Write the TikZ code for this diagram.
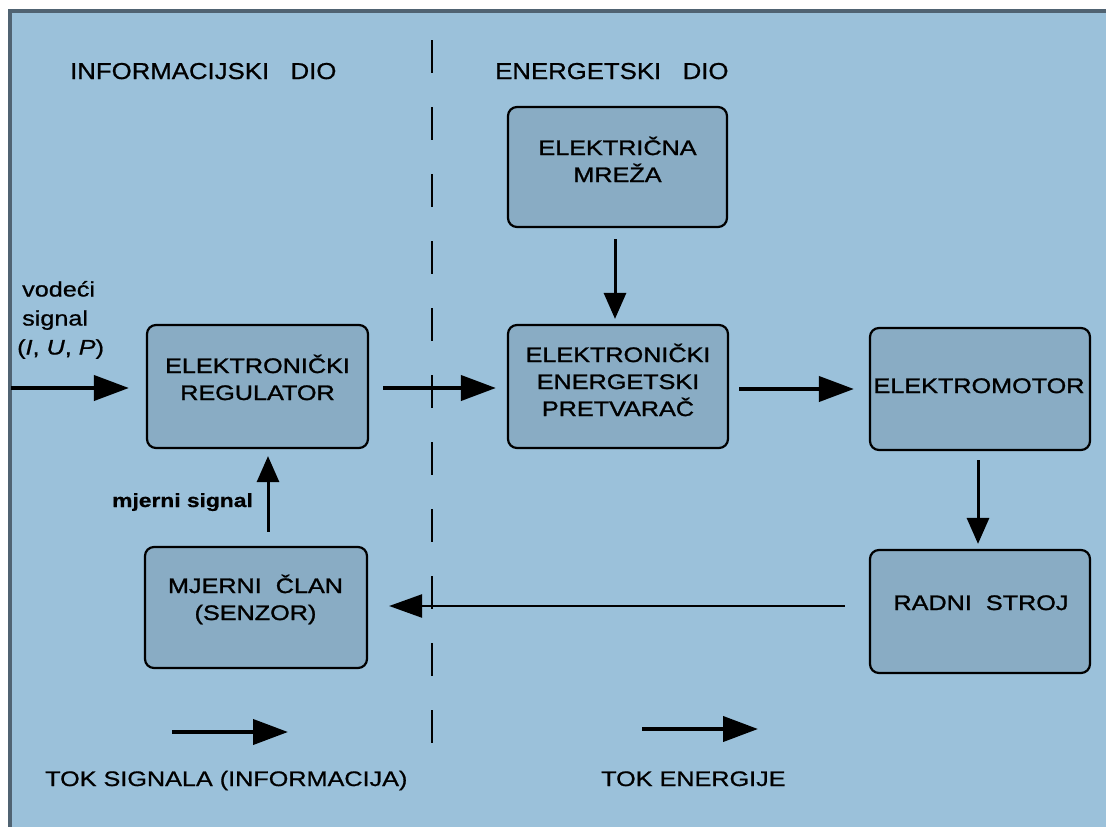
\documentclass[tikz,border=0pt]{standalone}
\usepackage{fontspec}
\setmainfont{Liberation Sans}[FakeStretch=1.2, FakeBold=0.8]
\newfontfamily\hdfont{Liberation Sans}[FakeStretch=1.12, FakeBold=0.8]
\newfontfamily\boxfont{Liberation Sans}[FakeStretch=1.2, FakeBold=1.3]
\usetikzlibrary{arrows.meta}
\definecolor{bgblue}{RGB}{155,193,218}
\definecolor{boxblue}{RGB}{137,172,196}
\definecolor{framec}{RGB}{80,99,114}
\tikzset{
  blk/.style={draw=black, line width=2.2pt, fill=boxblue, rounded corners=9pt, inner sep=0pt},
  blktxt/.style={inner sep=0pt, font=\boxfont\fontsize{21}{27}\selectfont, align=center},
  plain/.style={inner sep=0pt, font=\fontsize{21}{27}\selectfont},
  hdtxt/.style={inner sep=0pt, font=\hdfont\fontsize{23}{27}\selectfont},
  harrow/.style={line width=4pt, -{Triangle[length=35pt,width=25pt]}},
  varrow/.style={line width=3pt, -{Triangle[length=26pt,width=22pt]}},
  farrow/.style={line width=2.5pt, -{Triangle[length=33pt,width=23pt]}},
  divider/.style={line width=2.2pt, dash pattern=on 33pt off 34pt}
}
\newcommand{\lines}[1]{\begin{tabular}{@{}c@{}}#1\end{tabular}}
\begin{document}
\begin{tikzpicture}[x=1pt,y=-1pt]
\useasboundingbox (0,0) rectangle (1106,827);
\fill[white] (0,0) rectangle (1106,827);
\fill[bgblue] (8,9) rectangle (1106,827);
\draw[framec, line width=3.5pt] (9.75,827) -- (9.75,10.75) -- (1106,10.75);

% headers
\node[hdtxt, anchor=base west] (hinfo) at (70,79) {INFORMACIJSKI~~~DIO};
\node[hdtxt, anchor=base west] (hener) at (495,79) {ENERGETSKI~~~DIO};

% divider
\coordinate (d1) at (432,40);
\coordinate (d2) at (432,744);
\draw[divider] (d1) -- (d2);

% boxes
\node[blk, minimum width=221pt, minimum height=123pt] (reg) at (257.5,386.5) {};
\node[blk, minimum width=219pt, minimum height=120pt] (mre) at (617.5,167) {};
\node[blk, minimum width=220pt, minimum height=123pt] (pre) at (618,386.5) {};
\node[blk, minimum width=220pt, minimum height=122pt] (em) at (980,389) {};
\node[blk, minimum width=220pt, minimum height=123pt] (rs) at (980,611.5) {};
\node[blk, minimum width=222pt, minimum height=121pt] (mc) at (256,607.5) {};

% box texts
\node[blktxt] (tReg) at (257.5,381.1) {\lines{ELEKTRONIČKI\\REGULATOR}};
\node[blktxt] (tMre) at (617.5,163.1) {\lines{ELEKTRIČNA\\MREŽA}};
\node[blktxt] (tPre) at (618,383.6) {\lines{ELEKTRONIČKI\\ENERGETSKI\\PRETVARAČ}};
\node[blktxt] (tEm) at (979,387.6) {\lines{ELEKTROMOTOR}};
\node[blktxt] (tRs) at (981,604.6) {\lines{RADNI~~STROJ}};
\node[blktxt] (tMc) at (255.5,601.1) {\lines{MJERNI~~ČLAN\\(SENZOR)}};

% input signal label
\node[inner sep=0pt, anchor=north west, font=\fontsize{21}{29}\selectfont] (vin_lbl) at (17,276)
  {\begin{tabular}{@{}l@{}}\hspace{5pt}vodeći\\\hspace{5pt}signal\\(\textit{I}, \textit{U}, \textit{P})\end{tabular}};

% measuring signal label
\node[inner sep=0pt, anchor=base west, font=\bfseries\fontsize{19}{23}\selectfont] (msig) at (112,507) {mjerni signal};

% connectors
\coordinate (vin) at (11,388);
\draw[harrow, shorten >=17pt] (vin) -- (vin -| reg.west);
\draw[harrow, shorten <=14pt, shorten >=11pt] ([yshift=-1.5pt]reg.east) -- ([yshift=-1.5pt]pre.west);
\draw[harrow, shorten <=10pt, shorten >=15pt] (pre.east |- em.west) -- (em.west);
\draw[varrow, shorten <=11pt, shorten >=5pt] ([xshift=-2.5pt]mre.south) -- ([xshift=-2.5pt]mre.south |- pre.north);
\draw[varrow, shorten <=9pt, shorten >=5pt] ([xshift=-2pt]em.south) -- ([xshift=-2pt]em.south |- rs.north);
\draw[varrow, shorten <=14pt, shorten >=7pt] ([xshift=12pt]mc.north) -- ([xshift=12pt]mc.north |- reg.south);
\draw[farrow, shorten <=24pt, shorten >=21pt] ([yshift=5.5pt]rs.west) -- ([yshift=5.5pt]rs.west -| mc.east);

% legend
\coordinate (ls1) at (172,732);
\coordinate (ls2) at (288,732);
\draw[harrow] (ls1) -- (ls2);
\coordinate (le1) at (642,729);
\coordinate (le2) at (758,729);
\draw[harrow] (le1) -- (le2);
\node[plain, anchor=base west] (lsig) at (45,786) {TOK SIGNALA (INFORMACIJA)};
\node[plain, anchor=base west] (lene) at (601,786) {TOK ENERGIJE};
\end{tikzpicture}
\end{document}
